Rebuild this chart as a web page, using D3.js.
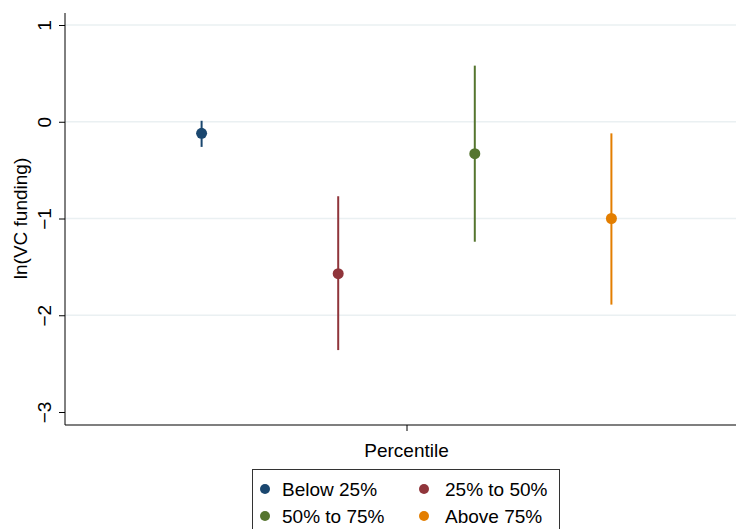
<!DOCTYPE html>
<html>
<head>
<meta charset="utf-8">
<script src="https://cdn.jsdelivr.net/npm/d3@7"></script>
<style>
  body { margin: 0; background: #fff; }
  text { font-family: "Liberation Sans", Arial, sans-serif; fill: #000; }
</style>
</head>
<body>
<div id="chart"></div>
<script>
var groups = ["Below 25%", "25% to 50%", "50% to 75%", "Above 75%"];
var estimates = [-0.12, -1.57, -0.33, -1.0];
var lower = [-0.26, -2.36, -1.24, -1.89];
var upper = [0.01, -0.77, 0.58, -0.12];
var colors = ["#1a476f", "#90353b", "#55752f", "#e37e00"];
var yTicks = [-3, -2, -1, 0, 1];

var width = 736, height = 529;
var margin = { top: 13, right: 0, bottom: 104, left: 65 };

var svg = d3.select("#chart").append("svg").attr("width", width).attr("height", height);

var x = d3.scaleLinear([0, 5], [margin.left, 748]);
var y = d3.scaleLinear([-3, 1], [412, 25]);

// gridlines
svg.append("g")
  .selectAll("line")
  .data(yTicks.filter(function (d) { return d > -3; }))
  .join("line")
  .attr("x1", margin.left)
  .attr("x2", width)
  .attr("y1", function (d) { return y(d); })
  .attr("y2", function (d) { return y(d); })
  .attr("stroke", "#eaf0f2")
  .attr("stroke-width", 1.5);

// y axis
var yAxis = svg.append("g")
  .attr("transform", "translate(" + margin.left + ",0)")
  .call(d3.axisLeft(y).tickValues(yTicks).tickSize(6).tickFormat(d3.format("d")));
yAxis.attr("font-size", null).attr("font-family", null);
yAxis.select(".domain").remove();
yAxis.selectAll(".tick line").attr("stroke", "#000");
yAxis.selectAll(".tick text")
  .style("font-size", "19px")
  .attr("transform", "rotate(-90)")
  .attr("x", 0)
  .attr("y", -14)
  .attr("dy", 0)
  .attr("text-anchor", "middle");
svg.append("line")
  .attr("x1", margin.left).attr("x2", margin.left)
  .attr("y1", margin.top).attr("y2", 425)
  .attr("stroke", "#000").attr("stroke-width", 1);

// x axis
var xAxis = svg.append("g")
  .attr("transform", "translate(0,425)")
  .call(d3.axisBottom(x).tickValues([2.5]).tickSize(6).tickFormat(""));
xAxis.select(".domain").remove();
xAxis.selectAll(".tick line").attr("stroke", "#000");
svg.append("line")
  .attr("x1", margin.left).attr("x2", width)
  .attr("y1", 425).attr("y2", 425)
  .attr("stroke", "#000").attr("stroke-width", 1.2);

// axis titles
svg.append("text")
  .attr("transform", "translate(27," + y(-1) + ") rotate(-90)")
  .attr("text-anchor", "middle")
  .style("font-size", "19px")
  .text("ln(VC funding)");
svg.append("text")
  .attr("x", x(2.5))
  .attr("y", 457)
  .attr("text-anchor", "middle")
  .style("font-size", "19px")
  .text("Percentile");

// confidence intervals and points
var data = groups.map(function (g, i) {
  return { name: g, pos: i + 1, est: estimates[i], lo: lower[i], hi: upper[i], color: colors[i] };
});
svg.append("g")
  .selectAll("line")
  .data(data)
  .join("line")
  .attr("x1", function (d) { return x(d.pos); })
  .attr("x2", function (d) { return x(d.pos); })
  .attr("y1", function (d) { return y(d.lo); })
  .attr("y2", function (d) { return y(d.hi); })
  .attr("stroke", function (d) { return d.color; })
  .attr("stroke-width", 2);
svg.append("g")
  .selectAll("circle")
  .data(data)
  .join("circle")
  .attr("cx", function (d) { return x(d.pos); })
  .attr("cy", function (d) { return y(d.est); })
  .attr("r", 5.5)
  .attr("fill", function (d) { return d.color; });

// legend
var legend = svg.append("g");
legend.append("rect")
  .attr("x", 252.5).attr("y", 469.5)
  .attr("width", 307).attr("height", 70)
  .attr("fill", "#fff")
  .attr("stroke", "#333").attr("stroke-width", 1);
var items = legend.selectAll("g")
  .data(data)
  .join("g")
  .attr("transform", function (d, i) {
    return "translate(" + (i % 2 === 0 ? 265 : 424) + "," + (i < 2 ? 489 : 516) + ")";
  });
items.append("circle").attr("r", 5).attr("fill", function (d) { return d.color; });
items.append("text")
  .attr("x", function (d, i) { return i % 2 === 0 ? 17 : 21; })
  .attr("dy", "0.36em")
  .style("font-size", "19px")
  .text(function (d) { return d.name; });
</script>
</body>
</html>
